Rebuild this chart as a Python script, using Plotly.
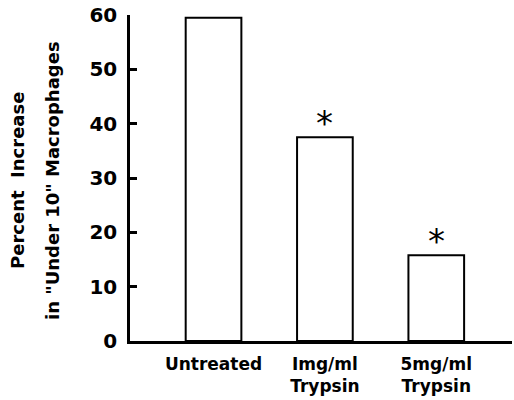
import plotly.graph_objects as go

categories = ["Untreated", "Img/ml<br>Trypsin", "5mg/ml<br>Trypsin"]
values = [59.5, 37.5, 15.8]
significant = [False, True, True]
y_ticks = [0, 10, 20, 30, 40, 50, 60]
y_tick_labels = ["0", "10", "20", "30", "40", "50", "60"]
y_title_lines = ["Percent  Increase", "in \"Under 10\" Macrophages"]

font_family = "DejaVu Sans"

fig = go.Figure()
fig.add_trace(go.Bar(
    x=categories, y=values, width=0.5,
    marker=dict(color="white", line=dict(color="black", width=2)),
    showlegend=False, hoverinfo="skip",
))

for c, v, s in zip(categories, values, significant):
    if s:
        fig.add_annotation(x=c, y=v, text="*", showarrow=False, yanchor="bottom",
                           yshift=-8, font=dict(family=font_family, size=34, color="black"))

# two-line rotated y-axis title with wide line spacing
for i, line in enumerate(y_title_lines):
    fig.add_annotation(xref="paper", yref="paper", x=0, y=0.5, xanchor="center", yanchor="middle",
                       xshift=-113 + 35 * i, yshift=-3, text=line, textangle=-90, showarrow=False,
                       font=dict(size=18, family=font_family, weight="bold", color="black"))

fig.update_layout(
    width=514, height=400,
    margin=dict(l=130, r=2, t=15, b=59),
    paper_bgcolor="white", plot_bgcolor="white",
    font=dict(family=font_family, color="black"),
    xaxis=dict(range=[-0.75, 2.68], showline=True, linecolor="black", linewidth=2.5,
               ticks="", tickfont=dict(size=17, family=font_family, weight="bold"),
               ticklabelstandoff=6, automargin=False,
               showgrid=False, zeroline=False),
    yaxis=dict(range=[0, 60], showline=True, linecolor="black", linewidth=2.5,
               tickvals=y_ticks, ticktext=y_tick_labels, ticks="inside", ticklen=7,
               tickwidth=2.5, tickcolor="black", ticklabelstandoff=6,
               tickfont=dict(size=20, family=font_family, weight="bold"),
               showgrid=False, zeroline=False, automargin=False),
)

fig.write_html("out.html", config={"displayModeBar": False},
               post_script="document.body.style.margin='0';")
